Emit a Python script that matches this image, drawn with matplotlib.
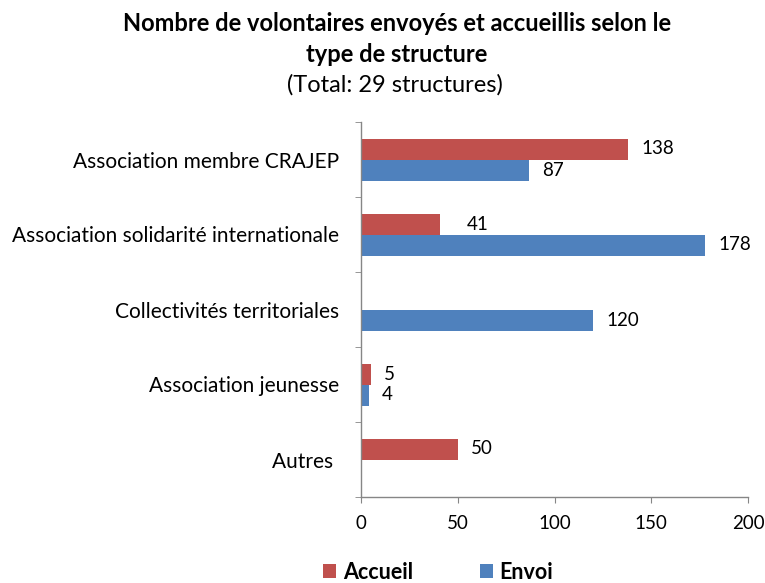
import numpy as np
import matplotlib
matplotlib.use("Agg")
import matplotlib.pyplot as plt

plt.rcParams['font.family'] = ['Lato', 'DejaVu Sans']

# data
categories = ["Association membre CRAJEP",
              "Association solidarité internationale",
              "Collectivités territoriales",
              "Association jeunesse",
              "Autres "]
accueil = [138, 41, 0, 5, 50]
envoi = [87, 178, 120, 4, 0]
x_ticks = [0, 50, 100, 150, 200]

RED = "#C0504D"
BLUE = "#4F81BD"
AXIS = "#868686"

W, H = 765, 583
fig = plt.figure(figsize=(W / 100, H / 100), dpi=100)
ax = fig.add_axes([361 / W, 1 - 497 / H, (748 - 361) / W, (497 - 122) / H])

pos = np.arange(len(categories))
bh = 0.28
b_acc = ax.barh(pos - bh / 2, accueil, height=bh, color=RED, linewidth=0, label="Accueil")
b_env = ax.barh(pos + bh / 2, envoi, height=bh, color=BLUE, linewidth=0, label="Envoi")

ax.set_ylim(len(categories) - 0.5, -0.5)
ax.set_xlim(0, 200)

# value labels
for bars, vals in ((b_acc, accueil), (b_env, envoi)):
    for rect, v in zip(bars, vals):
        if v == 0:
            continue
        off = 26 if v == 41 else 13
        ax.annotate(str(v), (v, rect.get_y() + rect.get_height() / 2),
                    xytext=(off, 0), textcoords="offset pixels",
                    ha="left", va="center", fontsize=13.5, color="black")

# axes styling
for s in ("top", "right"):
    ax.spines[s].set_visible(False)
for s in ("left", "bottom"):
    ax.spines[s].set_color(AXIS)
    ax.spines[s].set_linewidth(1)

ax.set_xticks(x_ticks)
ax.tick_params(axis="x", length=4, color=AXIS, labelsize=13.5, pad=9)
ax.set_yticks(pos)
ax.set_yticklabels(categories)
ax.tick_params(axis="y", which="major", length=0, labelsize=15, pad=16)
ax.set_yticks(np.arange(len(categories) + 1) - 0.5, minor=True)
ax.tick_params(axis="y", which="minor", length=4.5, color=AXIS)

# title
fig.text(397 / W, 1 - 31 / H, "Nombre de volontaires envoyés et accueillis selon le",
         ha="center", va="baseline", fontsize=17, fontweight="bold")
fig.text(397 / W, 1 - 62 / H, "type de structure",
         ha="center", va="baseline", fontsize=17, fontweight="bold")
fig.text(395 / W, 1 - 92 / H, "(Total: 29 structures)",
         ha="center", va="baseline", fontsize=17)

# legend
fig.legend(handles=[b_acc, b_env], loc="lower left", bbox_to_anchor=(304 / W, -19 / H),
           ncol=2, frameon=False, handlelength=0.6, handleheight=0.6,
           handletextpad=0.3, columnspacing=3.1,
           prop={"size": 15.5, "weight": "bold"})

fig.savefig("out.png", dpi=100)
